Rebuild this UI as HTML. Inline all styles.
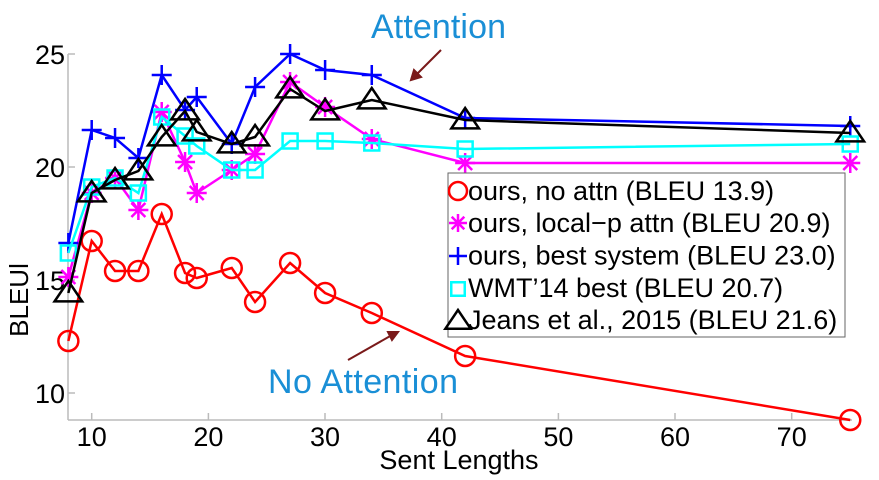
<!DOCTYPE html>
<html><head><meta charset="utf-8"><style>
body{margin:0;background:#fff;width:879px;height:480px;overflow:hidden}
svg{display:block;font-family:"Liberation Sans",Arial,sans-serif}
</style></head><body>
<svg id="s" width="879" height="480" viewBox="0 0 879 480">
<g stroke="#bbb" stroke-width="1.5" fill="none">
<line x1="68" y1="54" x2="68" y2="420"/><line x1="68" y1="420" x2="852" y2="420"/>
<line x1="68" y1="54" x2="75" y2="54"/><line x1="68" y1="167" x2="75" y2="167"/><line x1="68" y1="280" x2="75" y2="280"/><line x1="68" y1="393" x2="75" y2="393"/>
<line x1="91.7" y1="420" x2="91.7" y2="413"/><line x1="208.4" y1="420" x2="208.4" y2="413"/><line x1="325" y1="420" x2="325" y2="413"/><line x1="441.7" y1="420" x2="441.7" y2="413"/><line x1="558.4" y1="420" x2="558.4" y2="413"/><line x1="675" y1="420" x2="675" y2="413"/><line x1="791.7" y1="420" x2="791.7" y2="413"/>
</g>
<g font-size="27" fill="#000" text-anchor="end">
<text x="65" y="64">25</text><text x="65" y="177">20</text><text x="65" y="290">15</text><text x="65" y="403">10</text>
</g>
<g font-size="27" fill="#000" text-anchor="middle">
<text x="91.7" y="446">10</text><text x="208.4" y="446">20</text><text x="325" y="446">30</text><text x="441.7" y="446">40</text><text x="558.4" y="446">50</text><text x="675" y="446">60</text><text x="791.7" y="446">70</text>
<text x="459" y="469">Sent Lengths</text>
<text transform="translate(28,300) rotate(-90)" font-size="26">BLEUl</text>
</g>
<g id="data"></g>
<rect x="448" y="173" width="397" height="164" fill="#fff" stroke="#666" stroke-width="1"/>
<g id="leg"></g>
<g font-size="27" fill="#000">
<text x="468" y="200">ours, no attn (BLEU 13.9)</text>
<text x="468" y="232">ours, local−p attn (BLEU 20.9)</text>
<text x="468" y="264.5">ours, best system (BLEU 23.0)</text>
<text x="468" y="297">WMT’14 best (BLEU 20.7)</text>
<text x="468" y="329">Jeans et al., 2015 (BLEU 21.6)</text>
</g>
<g font-size="34" fill="#1a8fd6">
<text x="371" y="38" textLength="135">Attention</text>
<text x="268" y="393" textLength="190">No Attention</text>
</g>
<g stroke="#7a1a1a" stroke-width="2" fill="#7a1a1a">
<line x1="441" y1="50" x2="415" y2="76"/><polygon points="411,80 414,70 421,77"/>
<line x1="348" y1="360" x2="392" y2="335"/><polygon points="398,332 388,332 392,340"/>
</g>
</svg>
<script>
const X=[8,10,12,14,16,18,19,22,24,27,30,34,42,75].map(v=>91.7+(v-10)*11.67);
const S=[
{c:'#ff0000',m:'o',y:[341,241,271,271,214,273,278,268,302,263,293,313,356,420]},
{c:'#ff00ff',m:'*',y:[277,193,178,210,112,162,193,170,154,82,107,139,163,163]},
{c:'#0000ff',m:'+',y:[243,130,138,158,75,110,97,144,87,54,70,75,118,126]},
{c:'#00ffff',m:'s',y:[253,187,178,193,117,136,146,170,170,141,141,143,149,144]},
{c:'#000000',m:'t',y:[293,193,180,171,137,111,132,144,137,89,111,100,120,133]}];
const ns='http://www.w3.org/2000/svg';
function el(p,t,a){const e=document.createElementNS(ns,t);for(const k in a)e.setAttribute(k,a[k]);p.appendChild(e);return e;}
function mk(g,m,x,y,c,r){
 const st={stroke:c,'stroke-width':2.5,fill:'none'};
 if(m=='o')el(g,'circle',Object.assign({cx:x,cy:y,r:r},st));
 else if(m=='s')el(g,'rect',Object.assign({x:x-r*0.75,y:y-r*0.75,width:r*1.5,height:r*1.5},st));
 else if(m=='t')el(g,'polygon',Object.assign({points:`${x},${y-r} ${x-r*1.15},${y+r*0.7} ${x+r*1.15},${y+r*0.7}`},st));
 else if(m=='+'){el(g,'path',Object.assign({d:`M${x-r} ${y}H${x+r}M${x} ${y-r}V${y+r}`},st));}
 else {el(g,'path',Object.assign({d:`M${x-r} ${y}H${x+r}M${x} ${y-r}V${y+r}M${x-r*.7} ${y-r*.7}L${x+r*.7} ${y+r*.7}M${x-r*.7} ${y+r*.7}L${x+r*.7} ${y-r*.7}`},st));}
}
const g=document.getElementById('data'),L=document.getElementById('leg');
S.forEach((s,i)=>{
 el(g,'polyline',{points:X.map((x,j)=>x+','+s.y[j]).join(' '),stroke:s.c,'stroke-width':2.5,fill:'none'});
 X.forEach((x,j)=>mk(g,s.m,x,s.y[j],s.c,s.m=='t'?12:10));
 const ly=[191,223,256,289,321][i];
 mk(L,s.m,458,ly,s.c,s.m=='t'?11:9);
});
</script>
</body></html>
